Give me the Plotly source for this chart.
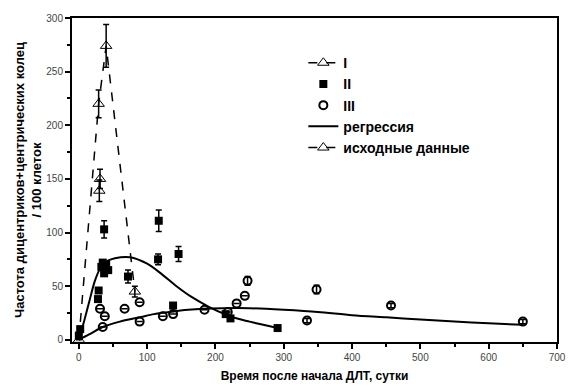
import plotly.graph_objects as go

# Series I (open triangles, dashed)
i_x = [0, 29, 40, 82]
i_y = [0, 220, 274, 45]
i_err = [0, 13, 20, 5]

# "исходные данные" (open triangles, dashed)
src_x = [31, 30]
src_y = [150, 139]
src_err = [9, 10]

# Series II (filled squares)
ii_x = [0, 2, 28, 29, 33, 35, 37, 40, 43, 37, 72, 116, 117, 146, 138, 215, 222, 291]
ii_y = [4, 10, 38, 46, 68, 72, 103, 70, 65, 62, 59, 75, 111, 80, 32, 24, 20, 11]
ii_err = [0, 0, 0, 0, 0, 0, 8, 0, 0, 0, 6, 5, 10, 7, 0, 0, 0, 0]

# Series III (open circles)
iii_x = [31, 38, 35, 67, 89, 89, 123, 138, 184, 218, 231, 243, 247, 334, 348, 457, 650]
iii_y = [29, 22, 12, 29, 35, 17, 22, 24, 28, 26, 34, 41, 55, 18, 47, 32, 17]
iii_err = [0, 0, 0, 0, 0, 0, 0, 0, 0, 0, 0, 0, 4, 2, 4, 2, 2]

# Regression curves
regA_x = [0, 8, 15, 23, 30, 38, 53, 75, 100, 120, 143, 165, 187, 210, 225, 250, 270, 291]
regA_y = [0, 18, 35, 54, 65, 72, 76, 77, 71, 62, 50, 40, 32, 25, 21, 17, 14, 11]
regB_x = [0, 15, 35, 60, 89, 110, 133, 160, 182, 210, 250, 300, 350, 400, 450, 500, 550, 600, 650]
regB_y = [0, 5, 12, 17, 21, 24, 26, 28, 29, 29.5, 29.5, 28, 26, 23, 21, 19, 17, 15.5, 14]

x_ticks = [0, 100, 200, 300, 400, 500, 600, 700]
y_ticks = [0, 50, 100, 150, 200, 250, 300]

def eb(arr):
    return dict(type='data', array=arr, visible=True, color='black', thickness=1.5, width=3)

fig = go.Figure()
fig.add_trace(go.Scatter(
    x=i_x, y=i_y, mode='lines+markers', name='I',
    line=dict(color='black', width=1.5, dash='dash'),
    marker=dict(symbol='triangle-up-open', size=10, color='black', line=dict(width=1)),
    error_y=eb(i_err)))
fig.add_trace(go.Scatter(
    x=ii_x, y=ii_y, mode='markers', name='II',
    marker=dict(symbol='square', size=8, color='black'),
    error_y=eb(ii_err)))
fig.add_trace(go.Scatter(
    x=iii_x, y=iii_y, mode='markers', name='III',
    marker=dict(symbol='circle-open', size=8, color='black', line=dict(width=2)),
    error_y=eb(iii_err)))
fig.add_trace(go.Scatter(
    x=regA_x, y=regA_y, mode='lines', name='регрессия',
    line=dict(color='black', width=2, shape='spline', smoothing=0.8)))
fig.add_trace(go.Scatter(
    x=regB_x, y=regB_y, mode='lines', name='регрессия', showlegend=False,
    line=dict(color='black', width=2, shape='spline', smoothing=0.8)))
fig.add_trace(go.Scatter(
    x=src_x, y=src_y, mode='lines+markers', name='исходные данные',
    line=dict(color='black', width=1.5, dash='dash'),
    marker=dict(symbol='triangle-up-open', size=10, color='black', line=dict(width=1)),
    error_y=eb(src_err)))

axis_common = dict(
    showline=True, linecolor='black', linewidth=2, mirror=True,
    ticks='outside', ticklen=5, tickwidth=1.5, tickcolor='black',
    showgrid=False, zeroline=False, automargin=False,
    tickfont=dict(family='Liberation Sans, Arial', size=10, color='#444'),
)

fig.update_layout(
    width=570, height=382,
    margin=dict(l=64, r=21, t=10, b=48),
    paper_bgcolor='white', plot_bgcolor='white',
    font=dict(family='Liberation Sans, Arial', color='black'),
    showlegend=True,
    legend=dict(x=0.477, y=0.91, xanchor='left', yanchor='top',
                bgcolor='rgba(0,0,0,0)',
                font=dict(size=14, color='black', weight='bold'),
                tracegroupgap=0, itemwidth=30),
    xaxis=dict(range=[-10, 700], tickvals=x_ticks,
               minor=dict(ticks='outside', ticklen=3, dtick=50, tick0=0, tickcolor='black'),
               title=dict(text='Время после начала ДЛТ, сутки',
                          font=dict(size=12, weight='bold'), standoff=10),
               **axis_common),
    yaxis=dict(range=[-2, 300], tickvals=y_ticks,
               minor=dict(ticks='outside', ticklen=3, dtick=25, tick0=0, tickcolor='black'),
               title=dict(text='Частота дицентриков+центрических колец<br>/ 100 клеток',
                          font=dict(size=13, weight='bold'), standoff=2),
               **axis_common),
)

fig.write_html('out.html')
